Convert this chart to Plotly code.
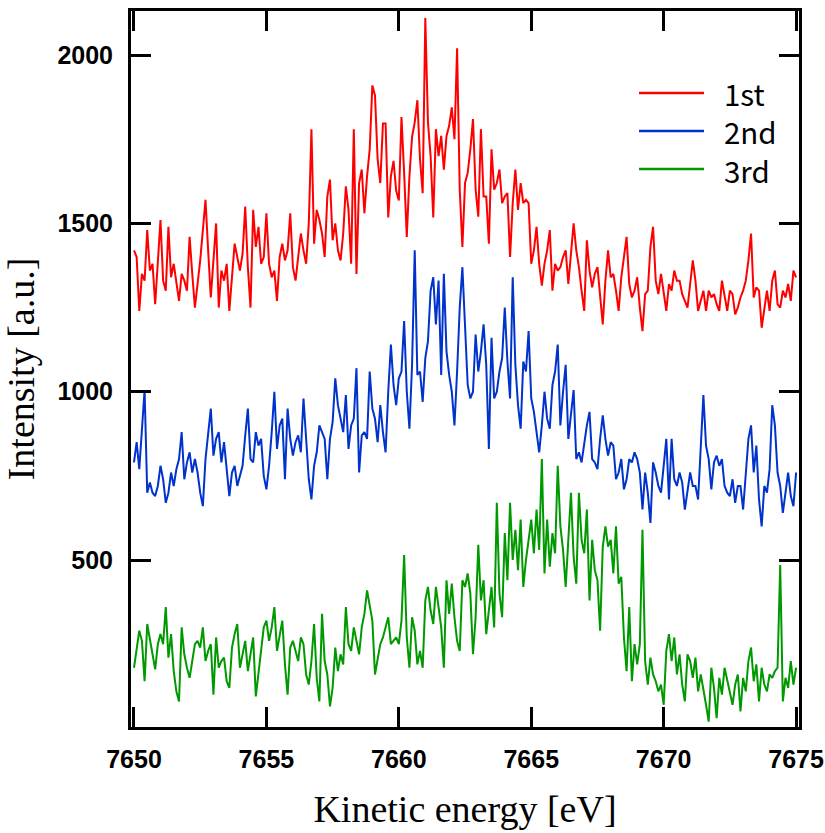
import numpy as np
import plotly.graph_objects as go

# Kinetic energy grid (eV), 0.1 eV step
energy = [round(7650.0 + 0.1 * i, 1) for i in range(251)]

first = [
1420,1400,1240,1350,1330,1480,1360,1380,1260,1390,
1510,1330,1300,1490,1340,1380,1320,1270,1350,1330,
1300,1460,1350,1250,1320,1390,1480,1570,1420,1280,
1390,1500,1250,1360,1330,1380,1240,1330,1440,1400,
1360,1410,1550,1370,1250,1540,1430,1490,1380,1400,
1530,1380,1340,1360,1270,1400,1440,1390,1420,1530,
1370,1330,1400,1470,1420,1380,1500,1780,1440,1540,
1510,1470,1400,1580,1630,1450,1500,1420,1390,1470,
1610,1540,1380,1780,1350,1620,1660,1530,1640,1720,
1910,1880,1690,1620,1797,1797,1518,1640,1686,1597,
1568,1816,1650,1460,1640,1757,1800,1866,1690,1590,
2110,1800,1700,1518,1780,1700,1760,1660,1760,1790,
1845,1750,2020,1600,1430,1620,1650,1720,1810,1600,
1520,1780,1580,1580,1440,1720,1600,1620,1660,1560,
1580,1590,1400,1560,1660,1540,1620,1560,1570,1560,
1380,1420,1490,1380,1315,1380,1420,1480,1300,1380,
1360,1370,1400,1420,1320,1400,1500,1420,1370,1300,
1240,1450,1360,1310,1350,1370,1280,1200,1330,1420,
1340,1350,1300,1240,1340,1400,1460,1320,1280,1300,
1340,1250,1180,1290,1300,1430,1490,1330,1290,1350,
1300,1240,1320,1300,1360,1330,1330,1290,1270,1250,
1320,1390,1330,1240,1270,1300,1240,1300,1280,1290,
1260,1240,1330,1280,1240,1300,1290,1230,1250,1280,
1300,1330,1390,1470,1280,1310,1300,1190,1250,1300,
1240,1330,1360,1260,1250,1300,1280,1320,1270,1360,
1340]

second = [
790,850,770,900,1005,700,730,700,690,720,
780,740,670,700,760,720,770,800,880,740,
790,820,760,800,760,700,660,800,880,950,
810,860,880,790,850,760,690,760,780,720,
750,780,870,950,800,790,880,840,860,750,
710,780,880,1000,830,900,920,740,950,860,
810,850,870,820,980,850,740,680,780,820,
900,880,860,740,860,910,1040,960,920,880,
990,830,900,920,1070,760,870,880,860,1060,
950,920,850,960,880,820,1000,1140,1020,960,
1040,1060,1210,1000,890,1080,1420,1050,1060,970,
1100,1150,1300,1340,1200,1330,1050,1350,1120,1050,
1000,900,1060,1250,1370,1180,1020,980,1000,1170,
1060,1120,1200,1080,830,1160,980,1000,1060,1100,
1250,1090,980,1340,1080,960,890,1090,1060,1180,
980,940,880,820,900,1000,920,890,1020,1060,
1140,900,1000,1080,860,930,1005,800,820,790,
850,900,940,800,790,770,860,930,860,810,
850,840,740,760,800,710,740,800,790,820,
800,760,650,760,700,610,790,760,720,700,
780,860,680,860,740,720,760,730,650,700,
760,720,720,680,860,990,840,800,710,790,
810,780,800,720,700,690,740,670,720,720,
650,770,860,900,760,840,680,600,720,700,
770,960,900,760,720,640,700,760,690,660,
760]

third = [
180,240,290,260,140,310,260,220,175,250,
280,250,360,210,280,170,110,80,300,220,
180,150,200,250,260,240,300,200,230,250,
100,270,180,200,210,140,120,240,280,310,
180,220,260,170,220,270,95,160,230,300,
320,260,300,360,230,280,320,190,100,240,
260,230,200,270,250,160,130,200,310,150,
80,340,200,160,65,120,240,170,220,190,
360,250,230,300,260,220,300,340,410,370,
320,160,200,250,270,300,330,250,260,270,
250,320,515,270,180,330,290,190,230,180,
380,420,350,310,420,360,300,180,440,340,
430,330,260,230,440,420,460,400,220,330,
545,380,440,280,360,420,300,670,400,330,
580,440,670,500,590,470,620,420,500,560,
620,520,650,530,800,460,620,480,580,520,
780,600,530,420,560,700,510,430,700,560,
520,650,380,560,470,440,290,540,600,540,
560,460,600,430,450,270,170,360,140,250,
190,250,590,200,130,210,160,140,110,130,
70,230,280,200,270,160,220,130,80,220,
200,150,210,110,160,120,70,20,180,120,
30,150,100,180,140,100,70,130,160,50,
150,110,200,240,140,190,80,180,130,110,
160,150,170,180,485,80,150,120,200,130,
180]

series_names = ["1st", "2nd", "3rd"]
series_colors = ["#ff0000", "#0033cc", "#009900"]

x_tickvals = [7650, 7655, 7660, 7665, 7670, 7675]
y_tickvals = [500, 1000, 1500, 2000]

fig = go.Figure()
for name, ys, col in zip(series_names, [first, second, third], series_colors):
    fig.add_trace(go.Scatter(x=energy, y=ys, mode="lines", name=name,
                             line=dict(color=col, width=2), showlegend=False))

# Legend drawn as line samples + one multi-line label block (paper coordinates)
legend_rows_y = [0.8855, 0.8324, 0.7793]
for col, ly in zip(series_colors, legend_rows_y):
    fig.add_shape(type="line", xref="paper", yref="paper",
                  x0=0.7605, x1=0.8578, y0=ly, y1=ly,
                  line=dict(color=col, width=2.5))
fig.add_annotation(xref="paper", yref="paper", x=0.884, y=legend_rows_y[1],
                   xanchor="left", yanchor="middle", align="left", showarrow=False,
                   text="<br>".join(series_names),
                   font=dict(family="Noto Sans CJK JP", size=29.5, color="black"))

tickfont = dict(family="Liberation Sans, Arial, sans-serif", size=25, color="black", weight="bold")
titlefont = dict(family="Liberation Serif, Times New Roman, serif", size=38, color="black")

fig.update_layout(
    width=825, height=833,
    margin=dict(l=131, r=26, t=11, b=106),
    paper_bgcolor="white", plot_bgcolor="white",
    showlegend=False,
)
fig.update_xaxes(
    range=[7649.887, 7675.11], tickvals=x_tickvals, automargin=False,
    ticks="inside", ticklen=20, tickwidth=2.5, tickcolor="black",
    showline=True, linewidth=3, linecolor="black", mirror="ticks",
    showgrid=False, zeroline=False, tickfont=tickfont, ticklabelstandoff=8,
    title=dict(text="Kinetic energy [eV]", font=titlefont, standoff=24),
)
fig.update_yaxes(
    range=[4, 2131], tickvals=y_tickvals, automargin=False,
    ticks="inside", ticklen=20, tickwidth=2.5, tickcolor="black",
    showline=True, linewidth=3, linecolor="black", mirror="ticks",
    showgrid=False, zeroline=False, tickfont=tickfont, ticklabelstandoff=10,
    title=dict(text="Intensity [a.u.]", font=titlefont, standoff=14),
)

fig.write_html("out.html")
